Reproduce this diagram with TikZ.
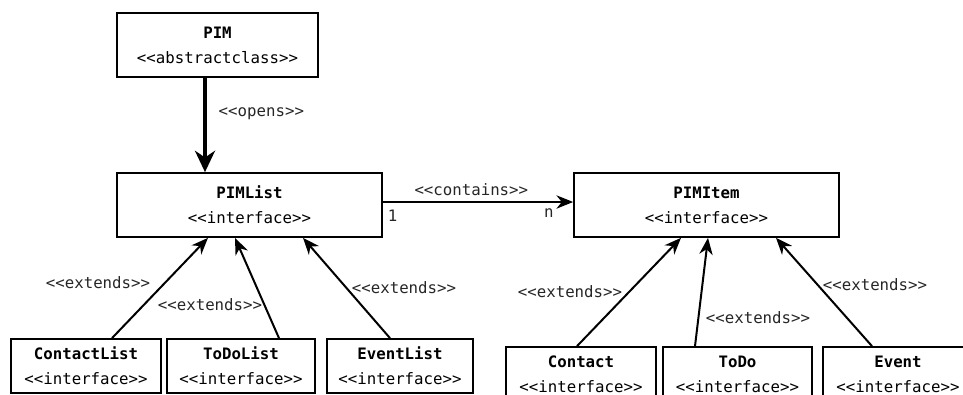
\documentclass[tikz,border=0pt]{standalone}
\usepackage{fontspec}
\setmonofont{DejaVu Sans Mono}
\usetikzlibrary{arrows.meta,calc,positioning}

\begin{document}
\begin{tikzpicture}[
    x=0.75pt, y=-0.75pt,
    cls/.style={draw=black, line width=1.3pt, align=center, inner sep=0pt,
                font=\ttfamily\fontsize{11.8}{18.75}\selectfont},
    big/.style={cls, minimum width=198.75pt, minimum height=48pt},
    small/.style={cls, minimum width=111pt, minimum height=40.5pt},
    arr/.style={-{Stealth[length=12.5pt, width=10pt, inset=4pt]}, line width=1.5pt},
    lbl/.style={font=\ttfamily\fontsize{11.8}{13}\selectfont, text=black!85, inner sep=1pt},
]
\useasboundingbox (0,0) rectangle (963,394);
\clip (0,0) rectangle (963,394);

% --- Top ---
\node[big, minimum width=150.75pt] (pim) at (217.5, 45)
    {\textbf{PIM}\\<<abstractclass>>};
\node[big] (pimlist) at (249.5, 205) {\textbf{PIMList}\\<<interface>>};
\node[big] (pimitem) at (706.5, 205) {\textbf{PIMItem}\\<<interface>>};

\coordinate (opens) at ($(pim.south)+(-12.5,0)$);
\draw[-{Stealth[length=16pt, width=15pt, inset=5pt]}, line width=2.6pt]
    (opens) -- (opens |- pimlist.north)
    node[lbl, pos=0.38, right=8pt] {<<opens>>};

\draw[arr] ($(pimlist.east)+(0,-3)$) -- ($(pimitem.west)+(0,-3)$)
    node[lbl, midway, above=3pt, xshift=-5pt] {<<contains>>}
    node[lbl, pos=0, below right=4pt and 2pt] {1}
    node[lbl, pos=1, below left=3pt and 13pt] {n};

% --- Lists (bottom left) ---
\node[small, minimum width=112.5pt] (contactlist) at (86, 366)
    {\textbf{ContactList}\\<<interface>>};
\node[small] (todolist) at (241, 366) {\textbf{ToDoList}\\<<interface>>};
\node[small, minimum width=109.5pt] (eventlist) at (400, 366)
    {\textbf{EventList}\\<<interface>>};

\draw[arr] ($(contactlist.north)+(26,0)$) -- ($(pimlist.south)+(-41.5,0)$);
\draw[arr] ($(todolist.north)+(38,0)$) -- ($(pimlist.south)+(-14.5,0)$);
\draw[arr] ($(eventlist.north)+(-10,0)$) -- ($(pimlist.south)+(53.5,0)$);

\node[lbl] (ext1) at (98, 283) {<<extends>>};
\node[lbl] (ext2) at (210, 305) {<<extends>>};
\node[lbl] (ext3) at (404, 288) {<<extends>>};

% --- Items (bottom right) ---
\node[small, minimum width=112.5pt] (contact) at (581, 374)
    {\textbf{Contact}\\<<interface>>};
\node[small, minimum width=111.75pt] (todo) at (737.5, 374)
    {\textbf{ToDo}\\<<interface>>};
\node[small, minimum width=112.5pt] (event) at (898, 374)
    {\textbf{Event}\\<<interface>>};

\draw[arr] ($(contact.north)+(-4,0)$) -- ($(pimitem.south)+(-25.5,0)$);
\draw[arr] ($(todo.north)+(-42.5,0)$) -- ($(pimitem.south)+(1.5,0)$);
\draw[arr] ($(event.north)+(-26,0)$) -- ($(pimitem.south)+(69.5,0)$);

\node[lbl] (ext4) at (570, 292) {<<extends>>};
\node[lbl] (ext5) at (758, 318) {<<extends>>};
\node[lbl] (ext6) at (875, 285) {<<extends>>};

\end{tikzpicture}
\end{document}
